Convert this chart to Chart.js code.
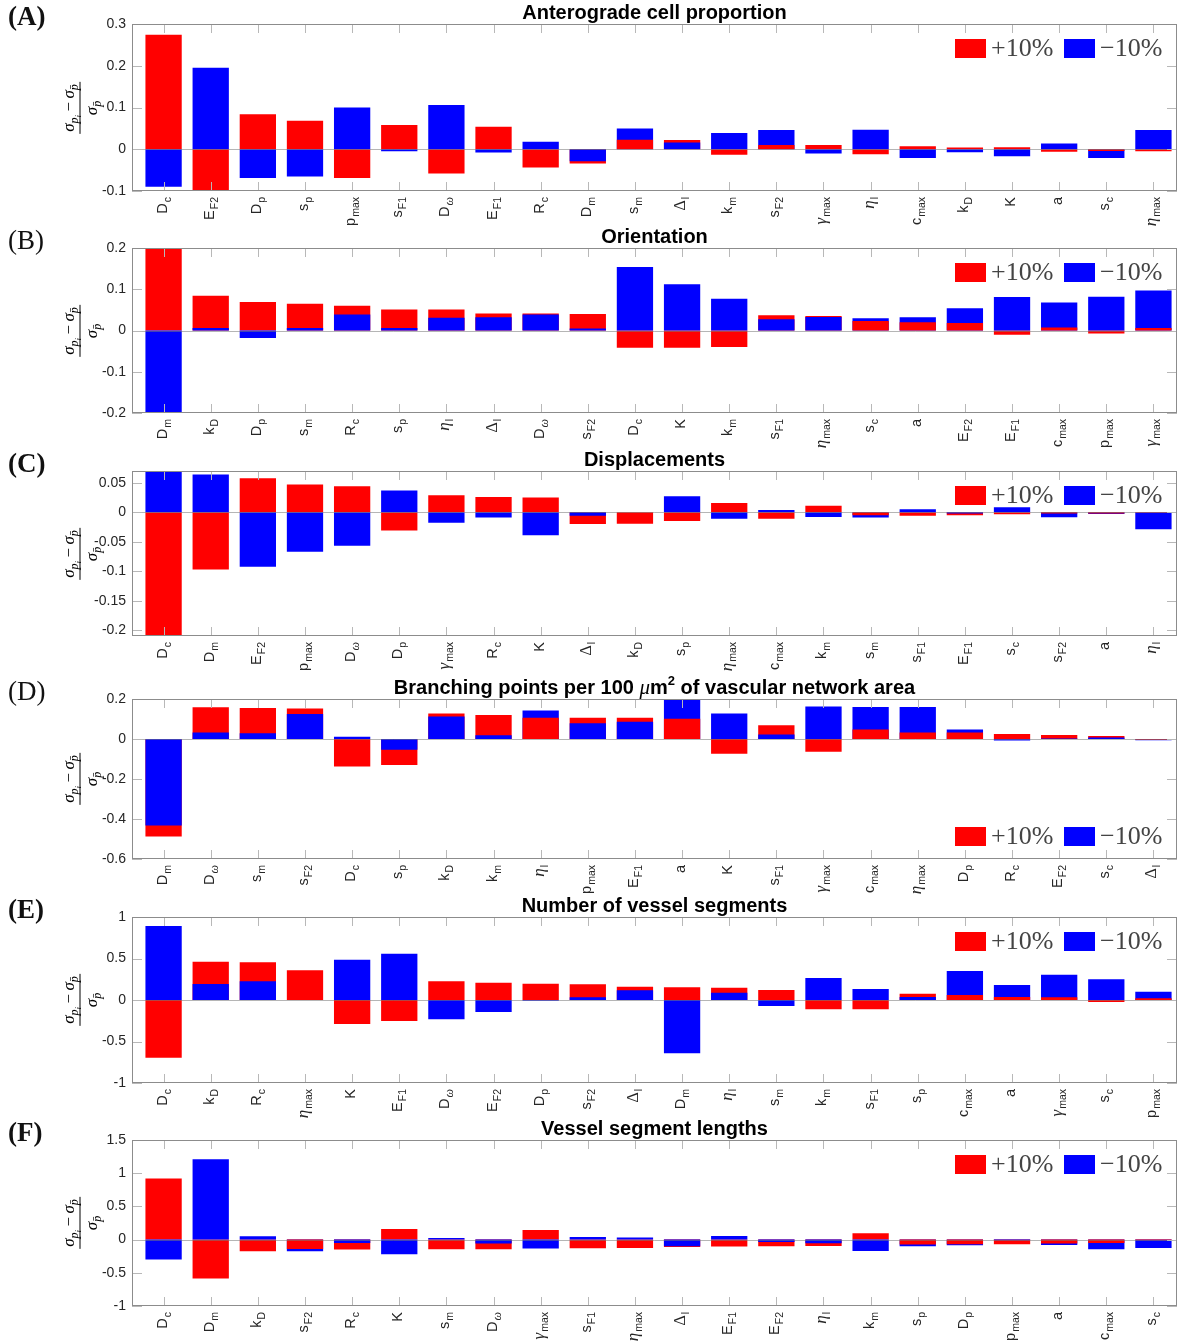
<!DOCTYPE html>
<html><head><meta charset="utf-8">
<script src="https://cdn.jsdelivr.net/npm/chart.js@4.4.1/dist/chart.umd.min.js"></script>
<style>
body{margin:0;background:#fff;width:1179px;height:1342px;position:relative;overflow:hidden}
canvas{position:absolute;left:0}
.ttl{position:absolute;font:bold 20px "Liberation Sans",Arial,sans-serif;color:#000;transform:translate(-50%,-50%);white-space:nowrap}
.ttl i{font-weight:normal;font-family:"Liberation Serif",serif;font-size:21px}
.ttl sup{font-size:13px;vertical-align:9px;line-height:0}
.plab{position:absolute;left:8px;font:27px "Liberation Serif",serif;color:#111;transform:translateY(-50%);line-height:1}
.ylab{position:absolute;transform:translate(-50%,-50%) rotate(-90deg);font:17px "Liberation Serif",serif;color:#000;white-space:nowrap}
.frac{display:inline-flex;flex-direction:column;align-items:center}
.num{border-bottom:1px solid #000;padding:0 2px 1px}
.den{padding-top:1px}
.ylab sub{font-size:12px;vertical-align:-4px;line-height:0}
.ylab sub sub{font-size:9px;vertical-align:-3px}
.lbox{position:absolute;width:31px;height:19px}
.ltxt{position:absolute;font:26px "Liberation Serif",serif;color:#444;transform:translateY(-50%);line-height:1;white-space:nowrap}
</style></head><body>
<script>
// ---------------- data ----------------
const labelsA = ['D_c','E_F2','D_p','s_p','p_max','s_F1','D_ω','E_F1','R_c','D_m','s_m','Δ_l','k_m','s_F2','γ_max','η_l','c_max','k_D','K','a','s_c','η_max'];
const plusA  = [0.274,-0.12,0.084,0.068,-0.069,0.058,-0.058,0.054,-0.044,-0.034,0.023,0.022,-0.013,0.010,0.010,-0.012,0.007,0.004,0.005,-0.006,-0.004,-0.005];
const minusA = [-0.090,0.195,-0.069,-0.065,0.100,-0.005,0.106,-0.008,0.018,-0.029,0.050,0.016,0.039,0.046,-0.010,0.047,-0.021,-0.007,-0.017,0.014,-0.021,0.046];
const ticksA = [0.3,0.2,0.1,0,-0.1];

const labelsB = ['D_m','k_D','D_p','s_m','R_c','s_p','η_l','Δ_l','D_ω','s_F2','D_c','K','k_m','s_F1','η_max','s_c','a','E_F2','E_F1','c_max','p_max','γ_max'];
const plusB  = [0.23,0.084,0.069,0.065,0.060,0.051,0.051,0.041,0.041,0.040,-0.042,-0.042,-0.040,0.037,0.035,0.023,0.020,0.018,-0.010,0.007,-0.007,0.006];
const minusB = [-0.23,0.006,-0.018,0.006,0.039,0.006,0.031,0.032,0.039,0.005,0.154,0.112,0.077,0.027,0.033,0.030,0.032,0.054,0.081,0.068,0.082,0.097];
const ticksB = [0.2,0.1,0,-0.1,-0.2];

const labelsC = ['D_c','D_m','E_F2','p_max','D_ω','D_p','γ_max','R_c','K','Δ_l','k_D','s_p','η_max','c_max','k_m','s_m','s_F1','E_F1','s_c','s_F2','a','η_l'];
const plusC  = [-0.23,-0.097,0.0575,0.047,0.044,-0.031,0.029,0.026,0.025,-0.020,-0.0195,-0.015,0.0155,-0.011,0.011,-0.005,-0.006,-0.005,-0.0035,-0.002,-0.002,-0.001];
const minusC = [0.08,0.064,-0.0925,-0.067,-0.057,0.037,-0.018,-0.009,-0.039,-0.006,0,0.027,-0.011,0.004,-0.008,-0.009,0.005,-0.002,0.0086,-0.0086,-0.003,-0.029];
const ticksC = [0.05,0,-0.05,-0.1,-0.15,-0.2];

const labelsD = ['D_m','D_ω','s_m','s_F2','D_c','s_p','k_D','k_m','η_l','p_max','E_F1','a','K','s_F1','γ_max','c_max','η_max','D_p','R_c','E_F2','s_c','Δ_l'];
const plusD  = [-0.488,0.159,0.155,0.152,-0.138,-0.130,0.127,0.120,0.106,0.106,0.106,0.101,-0.074,0.069,-0.064,0.047,0.032,0.032,0.025,0.020,0.015,-0.004];
const minusD = [-0.432,0.032,0.029,0.125,0.011,-0.054,0.113,0.019,0.143,0.079,0.086,0.23,0.127,0.022,0.162,0.160,0.160,0.047,-0.007,0.002,0.008,-0.006];
const ticksD = [0.2,0,-0.2,-0.4,-0.6];

const labelsE = ['D_c','k_D','R_c','η_max','K','E_F1','D_ω','E_F2','D_p','s_F2','Δ_l','D_m','η_l','s_m','k_m','s_F1','s_p','c_max','a','γ_max','s_c','p_max'];
const plusE  = [-0.695,0.462,0.454,0.357,-0.289,-0.253,0.225,0.209,0.197,0.189,0.161,0.153,0.149,0.120,-0.112,-0.112,0.076,0.060,0.036,0.032,-0.024,0.020];
const minusE = [0.892,0.193,0.225,0,0.486,0.558,-0.233,-0.145,-0.010,0.032,0.116,-0.643,0.088,-0.072,0.265,0.133,0.036,0.349,0.181,0.305,0.249,0.100];
const ticksE = [1,0.5,0,-0.5,-1];

const labelsF = ['D_c','D_m','k_D','s_F2','R_c','K','s_m','D_ω','γ_max','s_F1','η_max','Δ_l','E_F1','E_F2','η_l','k_m','s_p','D_p','p_max','a','c_max','s_c'];
const plusF  = [0.92,-0.585,-0.175,-0.14,-0.15,0.16,-0.145,-0.145,0.145,-0.13,-0.125,-0.11,-0.105,-0.10,-0.095,0.095,-0.075,-0.07,-0.07,-0.06,-0.05,-0.01];
const minusF = [-0.30,1.21,0.05,-0.175,-0.05,-0.22,0.025,-0.06,-0.135,0.04,0.03,-0.10,0.055,-0.035,-0.055,-0.17,-0.10,-0.085,-0.01,-0.08,-0.145,-0.125];
const ticksF = [1.5,1,0.5,0,-0.5,-1];

const legendLabels = ['+10%','\u221210%'];
// ---------------------------------------

const RED = '#ff0000', BLUE = '#0000ff';
const panels = [
  {tag:'(A)', bold:true,  title:'Anterograde cell proportion', labels:labelsA, plus:plusA, minus:minusA, ticks:ticksA, min:-0.1, max:0.3, top:24, bottom:191, legTop:true},
  {tag:'(B)', bold:false, title:'Orientation', labels:labelsB, plus:plusB, minus:minusB, ticks:ticksB, min:-0.2, max:0.2, top:248, bottom:413, legTop:true},
  {tag:'(C)', bold:true,  title:'Displacements', labels:labelsC, plus:plusC, minus:minusC, ticks:ticksC, min:-0.21, max:0.07, top:471, bottom:636, legTop:true},
  {tag:'(D)', bold:false, title:'Branching points per 100 <i>\u03bc</i>m<sup>2</sup> of vascular network area', labels:labelsD, plus:plusD, minus:minusD, ticks:ticksD, min:-0.6, max:0.2, top:699, bottom:859, legTop:false},
  {tag:'(E)', bold:true,  title:'Number of vessel segments', labels:labelsE, plus:plusE, minus:minusE, ticks:ticksE, min:-1, max:1, top:917, bottom:1083, legTop:true},
  {tag:'(F)', bold:true,  title:'Vessel segment lengths', labels:labelsF, plus:plusF, minus:minusF, ticks:ticksF, min:-1, max:1.5, top:1140, bottom:1306, legTop:true}
];

const PLOT_LEFT = 132, PLOT_RIGHT = 1177, PAD_TOP = 24, PAD_BOTTOM = 46;
const GREEK = new Set(['γ','η','ω']);

function fmt(v){ return String(Math.round(v*1000)/1000); }

function layers(plus, minus){
  const back=[], front=[], bc=[], fc=[];
  plus.forEach((p,i)=>{
    const m = minus[i];
    if (p*m > 0 && Math.abs(m) > Math.abs(p)) { back.push({x:i,y:m}); bc.push(BLUE); front.push({x:i,y:p}); fc.push(RED); }
    else { back.push({x:i,y:p}); bc.push(RED); front.push({x:i,y:m}); fc.push(BLUE); }
  });
  return {back, front, bc, fc};
}

function drawLabel(ctx, x, y, lab){
  const parts = lab.split('_');
  const main = parts[0], sub = parts[1];
  const mainFont = GREEK.has(main) ? 'italic 17px "Liberation Serif"' : (main==='Δ' ? '16px "Liberation Serif"' : '14.5px "Liberation Sans"');
  const subFont = GREEK.has(sub) ? 'italic 12px "Liberation Serif"' : '10.5px "Liberation Sans"';
  ctx.save();
  ctx.translate(x, y);
  ctx.rotate(-Math.PI/2);
  ctx.fillStyle = '#262626';
  ctx.textAlign = 'left';
  ctx.textBaseline = 'alphabetic';
  ctx.font = mainFont; const mw = ctx.measureText(main).width;
  let sw = 0;
  if (sub){ ctx.font = subFont; sw = ctx.measureText(sub).width + 1; }
  const total = mw + sw;
  ctx.font = mainFont; ctx.fillText(main, -total, 4);
  if (sub){ ctx.font = subFont; ctx.fillText(sub, -total + mw + 1, 8); }
  ctx.restore();
}

function makeBoxPlugin(p){
  return {
    id:'boxaxes',
    afterDatasetsDraw(chart){
      const {ctx, chartArea:{left,right,top,bottom}, scales:{x,y}} = chart;
      ctx.save();
      ctx.lineWidth = 1;
      const y0 = Math.round(y.getPixelForValue(0)) + 0.5;
      ctx.strokeStyle = 'rgba(120,120,120,0.55)';
      ctx.beginPath(); ctx.moveTo(left,y0); ctx.lineTo(right,y0); ctx.stroke();
      ctx.strokeStyle = '#b8b8b8';
      ctx.beginPath();
      p.labels.forEach((_,i)=>{
        const px = Math.round(x.getPixelForValue(i)) + 0.5;
        ctx.moveTo(px,bottom); ctx.lineTo(px,bottom-9);
        ctx.moveTo(px,top); ctx.lineTo(px,top+9);
      });
      p.ticks.forEach(v=>{
        const py = Math.round(y.getPixelForValue(v)) + 0.5;
        ctx.moveTo(left,py); ctx.lineTo(left+10,py);
        ctx.moveTo(right,py); ctx.lineTo(right-10,py);
      });
      ctx.stroke();
      ctx.strokeStyle = '#8c8c8c';
      ctx.strokeRect(left+0.5, top+0.5, right-left-1, bottom-top-1);
      p.labels.forEach((lab,i)=>{
        drawLabel(ctx, x.getPixelForValue(i) - 1, bottom + 6, lab);
      });
      ctx.restore();
    }
  };
}

function addDiv(cls, html, style){
  const d = document.createElement('div');
  d.className = cls; d.innerHTML = html;
  Object.assign(d.style, style);
  document.body.appendChild(d);
  return d;
}

panels.forEach(p=>{
  const h = (p.bottom - p.top) + PAD_TOP + PAD_BOTTOM;
  const cv = document.createElement('canvas');
  cv.width = 1179; cv.height = h;
  cv.style.top = (p.top - PAD_TOP) + 'px';
  document.body.appendChild(cv);
  const L = layers(p.plus, p.minus);
  const common = {grouped:false, barPercentage:0.77, categoryPercentage:1, borderWidth:0};
  new Chart(cv.getContext('2d'), {
    type:'bar',
    data:{datasets:[
      Object.assign({label:'back', data:L.back, backgroundColor:L.bc, order:2}, common),
      Object.assign({label:'front', data:L.front, backgroundColor:L.fc, order:1}, common)
    ]},
    options:{
      responsive:false, animation:false, devicePixelRatio:1,
      layout:{padding:{left:0,right:1179-PLOT_RIGHT,top:PAD_TOP,bottom:PAD_BOTTOM}},
      plugins:{legend:{display:false}, tooltip:{enabled:false}},
      scales:{
        x:{type:'linear', display:false, min:-0.67, max:p.labels.length-0.5, offset:false},
        y:{min:p.min, max:p.max,
           afterBuildTicks:s=>{ s.ticks = p.ticks.map(v=>({value:v})); },
           afterFit:s=>{ s.width = PLOT_LEFT; },
           grid:{display:false, drawTicks:false}, border:{display:false},
           ticks:{padding:6, color:'#262626', font:{family:'"Liberation Sans", Arial, sans-serif', size:14}, callback:v=>fmt(v)}
        }
      }
    },
    plugins:[makeBoxPlugin(p)]
  });

  const cx = (PLOT_LEFT + PLOT_RIGHT)/2;
  addDiv('ttl', p.title, {left:cx+'px', top:(p.top-12)+'px'});
  addDiv('plab', p.tag, {top:(p.top-8)+'px', fontWeight:p.bold?'bold':'normal'});
  addDiv('ylab', '<span class="frac"><span class="num"><i>\u03c3</i><sub><i>p</i><sub><i>i</i></sub></sub>\u2009\u2212\u2009<i>\u03c3</i><sub><i>p\u0304</i></sub></span><span class="den"><i>\u03c3</i><sub><i>p\u0304</i></sub></span></span>',
         {left:'80px', top:((p.top+p.bottom)/2)+'px'});
  const ly = p.legTop ? p.top + 24 : p.bottom - 23;
  addDiv('lbox', '', {left:'955px', top:(ly-9.5)+'px', background:RED});
  addDiv('ltxt', legendLabels[0], {left:'991px', top:ly+'px'});
  addDiv('lbox', '', {left:'1064px', top:(ly-9.5)+'px', background:BLUE});
  addDiv('ltxt', legendLabels[1], {left:'1100px', top:ly+'px'});
});
</script>
</body></html>
